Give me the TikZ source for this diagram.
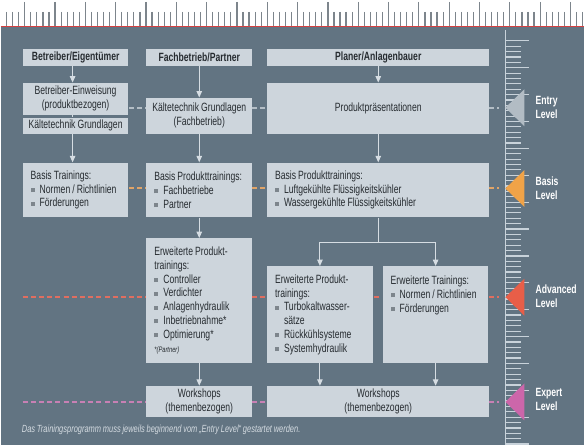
\documentclass[tikz,border=0pt]{standalone}
\usepackage{fontspec}
\setmainfont{Liberation Sans}[FakeStretch=0.72, WordSpace=0.85]
\usetikzlibrary{positioning,arrows.meta}
\definecolor{bgslate}{RGB}{98,116,130}
\definecolor{boxfill}{RGB}{205,213,220}
\definecolor{boxtext}{RGB}{38,43,48}
\definecolor{linklight}{RGB}{214,221,227}
\definecolor{tickgray}{RGB}{125,133,140}
\definecolor{ticklight}{RGB}{200,210,218}
\definecolor{rulerred}{RGB}{214,64,64}
\definecolor{lvlentry}{RGB}{178,188,196}
\definecolor{lvlbasis}{RGB}{240,163,72}
\definecolor{lvladv}{RGB}{232,94,72}
\definecolor{lvlexpert}{RGB}{204,102,170}
\definecolor{dashentry}{RGB}{180,190,198}
\definecolor{dashbasis}{RGB}{224,164,104}
\definecolor{dashadv}{RGB}{224,110,96}
\definecolor{dashexpert}{RGB}{200,128,180}
\definecolor{notetext}{RGB}{212,219,225}
\newcommand{\bitem}[1]{\makebox[9pt][l]{\textcolor{tickgray}{\raisebox{1pt}{\rule{4pt}{4pt}}}}#1}

\begin{document}
\begin{tikzpicture}[x=1pt, y=-1pt, font=\fontsize{12}{13.8}\selectfont,
  box/.style={fill=boxfill, text=boxtext, inner sep=0pt, align=center, minimum width=106pt},
  hdr/.style={box, font=\fontsize{12}{13.8}\selectfont\bfseries, minimum height=17pt},
  lst/.style={box, align=flush left, text width=90pt},
  arr/.style={-{Triangle[width=5.5pt,length=6.5pt]}, line width=1.1pt, color=linklight},
  link/.style={line width=1.1pt, color=linklight},
  lvl/.style={line width=2pt, dash pattern=on 5pt off 3.2pt},
  tag/.style={text=white, font=\fontsize{12}{14}\selectfont\bfseries, align=flush left, anchor=west, inner sep=0pt}]
% background and rulers
\fill[bgslate] (0,27) rectangle (585,446);
\fill[white] (0,0) rectangle (585,26.5);
\foreach \k in {0,...,95}{
  \pgfmathtruncatemacro\m{mod(\k,5)}
  \ifnum\m=3 \draw[tickgray, line width=1.2pt] (5.76+6.08*\k,2) -- (5.76+6.08*\k,26);
  \else \draw[tickgray, line width=1.2pt] (5.76+6.08*\k,12) -- (5.76+6.08*\k,26); \fi}
\draw[rulerred, line width=1.6pt] (0,26.5) -- (585,26.5);
\draw[ticklight, line width=1.4pt] (506,30) -- (506,446);
\foreach \k in {0,...,75}{
  \pgfmathtruncatemacro\m{mod(\k,5)}
  \ifnum\m=0 \draw[ticklight, line width=1.2pt] (506,41+5.39*\k) -- (530,41+5.39*\k);
  \else \draw[ticklight, line width=1.2pt] (506,41+5.39*\k) -- (522,41+5.39*\k); \fi}
% level lines
\draw[lvl, dashentry] (22,108) -- (500,108);
\draw[lvl, dashbasis] (22,189) -- (500,189);
\draw[lvl, dashadv] (22,298) -- (500,298);
\draw[lvl, dashexpert] (22,403) -- (500,403);
\foreach \ly/\lc in {108/lvlentry,189/lvlbasis,298/lvladv,403/lvlexpert}
  \fill[\lc] (506,\ly) -- (525,\ly-18.5) -- (525,\ly+18.5) -- cycle;
\node[tag] (tE) at (536,108) {Entry\\Level};
\node[tag] (tB) at (536,189) {Basis\\Level};
\node[tag] (tA) at (536,297) {Advanced\\Level};
\node[tag] (tX) at (536,401) {Expert\\Level};
% columns
\node[hdr] (h1) at (75,57.5) {Betreiber/Eigentümer};
\node[hdr] (h2) at (199,57.5) {Fachbetrieb/Partner};
\node[hdr, minimum width=223pt] (h3) at (378.5,57.5) {Planer/Anlagenbauer};
\node[box, minimum height=32pt] (e1) at (75,99) {Betreiber-Einweisung\\(produktbezogen)};
\node[box, minimum height=16pt] (e1b) at (75,126) {Kältetechnik Grundlagen};
\node[box, minimum height=36pt] (e2) at (199,116) {Kältetechnik Grundlagen\\(Fachbetrieb)};
\node[box, minimum width=223pt, minimum height=51pt] (e3) at (378.5,108.5) {Produktpräsentationen};
\node[lst, minimum height=55pt] (b1) at (75,190.5) {Basis Trainings:\\\bitem{Normen / Richtlinien}\\\bitem{Förderungen}};
\node[lst, minimum height=55pt] (b2) at (199,190.5) {Basis Produkttrainings:\\\bitem{Fachbetriebe}\\\bitem{Partner}};
\node[lst, minimum width=223pt, text width=207pt, minimum height=55pt] (b3) at (378.5,190.5) {Basis Produkttrainings:\\\bitem{Luftgekühlte Flüssigkeitskühler}\\\bitem{Wassergekühlte Flüssigkeitskühler}};
\node[lst, minimum height=125pt] (a2) at (199,301.5) {Erweiterte Produkt-\\trainings:\\\bitem{Controller}\\\bitem{Verdichter}\\\bitem{Anlagenhydraulik}\\\bitem{Inbetriebnahme*}\\\bitem{Optimierung*}\\[1pt]{\fontsize{8}{10}\selectfont\itshape *(Partner)}};
\node[lst, minimum height=97pt] (a3) at (320,315.5) {Erweiterte Produkt-\\trainings:\\\bitem{Turbokaltwasser-}\\\hspace*{9pt}sätze\\\bitem{Rückkühlsysteme}\\\bitem{Systemhydraulik}};
\node[lst, minimum height=97pt] (a4) at (436,315.5) {Erweiterte Trainings:\\\bitem{Normen / Richtlinien}\\\bitem{Förderungen}\\\mbox{}\\\mbox{}\\\mbox{}};
\node[box, minimum height=31pt] (w2) at (199,402.5) {Workshops\\(themenbezogen)};
\node[box, minimum width=223pt, minimum height=31pt] (w3) at (378.5,402.5) {Workshops\\(themenbezogen)};
\node[anchor=west, inner sep=0pt, text=notetext, font=\fontsize{10.4}{11}\selectfont\itshape] (note) at (21,431) {Das Trainingsprogramm muss jeweils beginnend vom „Entry Level“ gestartet werden.};
% connectors
\draw[arr] ([xshift=-3pt]h1.south) -- ([xshift=-3pt]e1.north); \draw[link] ([xshift=-3pt]e1.south) -- ([xshift=-3pt]e1b.north); \draw[arr] ([xshift=-3pt]e1b.south) -- ([xshift=-3pt]b1.north);
\draw[arr] (h2) -- (e2); \draw[arr] (e2) -- (b2); \draw[arr] (b2) -- (a2); \draw[arr] (a2) -- (w2);
\draw[arr] (h3) -- (e3); \draw[arr] (e3) -- (b3);
\coordinate (fork) at (378.5,243);
\draw[link] (b3) -- (fork); \draw[arr] (fork) -| (a3); \draw[arr] (fork) -| (a4);
\draw[arr] (a3) -- (a3 |- w3.north); \draw[arr] (a4) -- (a4 |- w3.north);
\end{tikzpicture}
\end{document}
